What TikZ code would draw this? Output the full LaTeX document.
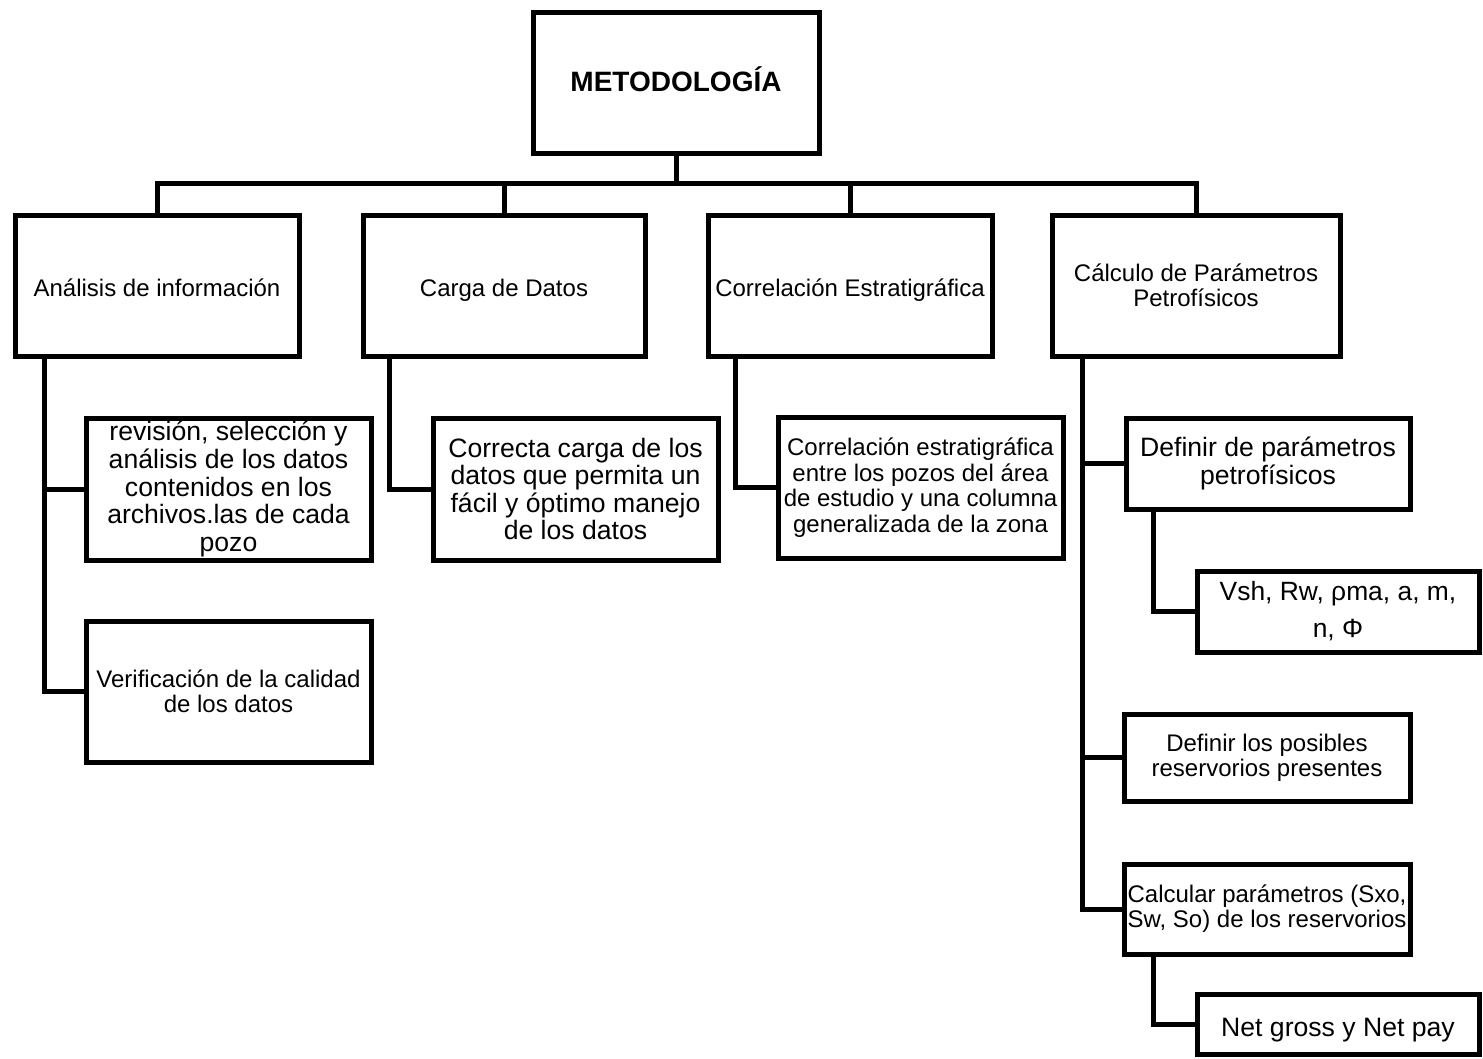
\documentclass[tikz,border=0pt]{standalone}
\usepackage{fontspec}
\setmainfont{Liberation Sans}
\begin{document}
\begin{tikzpicture}[x=1pt,y=-1pt,
  bx/.style={draw=black, line width=5pt, rectangle, align=center, inner sep=0pt, fill=white},
  ln/.style={draw=black, line width=5pt, line cap=rect},
  one/.style={text height=22pt, text depth=0pt},
  fA/.style={font=\fontsize{24}{25}\selectfont},
  fB/.style={font=\fontsize{26.6}{27.6}\selectfont},
  fC/.style={font=\fontsize{24}{25.7}\selectfont}]
\useasboundingbox (0,0) rectangle (1483,1058);
% top
\node[bx, text height=18pt, text depth=0pt, minimum width=286pt, minimum height=141pt, font=\bfseries\fontsize{28}{30}\selectfont] (top) at (676,82.5) {METODOLOGÍA};
% level 1
\node[bx, fA, one, minimum width=284pt, minimum height=141pt] (a1) at (157,285.5) {Análisis de información};
\node[bx, fA, one, minimum width=282pt, minimum height=141pt] (a2) at (504,285.5) {Carga de Datos};
\node[bx, fA, one, minimum width=284pt, minimum height=141pt] (a3) at (850,285.5) {Correlación Estratigráfica};
\node[bx, fA, minimum width=288pt, minimum height=141pt] (a4) at (1196,285.5) {Cálculo de Parámetros\\Petrofísicos};
% level 2
\node[bx, fB, minimum width=285pt, minimum height=142pt] (b1) at (228.5,489) {revisión, selección y\\análisis de los datos\\contenidos en los\\archivos.las de cada\\pozo};
\node[bx, fA, minimum width=285pt, minimum height=141pt] (b2) at (228.5,691.5) {Verificación de la calidad\\de los datos};
\node[bx, fB, minimum width=285pt, minimum height=142pt] (c1) at (575.5,489) {Correcta carga de los\\datos que permita un\\fácil y óptimo manejo\\de los datos};
\node[bx, fC, minimum width=285pt, minimum height=141pt] (d1) at (920.5,487.5) {Correlación estratigráfica\\entre los pozos del área\\de estudio y una columna\\generalizada de la zona};
\node[bx, fB, minimum width=284pt, minimum height=91pt] (e1) at (1268,463.5) {Definir de parámetros\\petrofísicos};
\node[bx, font=\fontsize{26.4}{37}\selectfont, minimum width=282pt, minimum height=81pt] (e1a) at (1338,611.5) {Vsh, Rw, ρma, a, m,\\n, Φ};
\node[bx, fA, minimum width=286pt, minimum height=87pt] (e2) at (1267,757.5) {Definir los posibles\\reservorios presentes};
\node[bx, fA, minimum width=286pt, minimum height=90pt] (e3) at (1267,909) {Calcular parámetros (Sxo,\\Sw, So) de los reservorios};
\node[bx, fB, text height=24pt, text depth=0pt, minimum width=282pt, minimum height=60pt] (e3a) at (1338,1024) {Net gross y Net pay};
% trunk coordinates
\coordinate (bus) at (0,183);
\coordinate (t1) at (44,0);
\coordinate (t2) at (389,0);
\coordinate (t3) at (735,0);
\coordinate (t4) at (1082,0);
\coordinate (t5) at (1153,0);
% connectors
\draw[ln] (top.south) -- (top.south |- bus);
\draw[ln] (a1.north) -- (a1.north |- bus) -- (a4.north |- bus) -- (a4.north);
\draw[ln] (a2.north |- bus) -- (a2.north);
\draw[ln] (a3.north |- bus) -- (a3.north);
\draw[ln] (t1 |- a1.south) |- (b1.west);
\draw[ln] (t1 |- a1.south) |- (b2.west);
\draw[ln] (t2 |- a2.south) |- (c1.west);
\draw[ln] (t3 |- a3.south) |- (d1.west);
\draw[ln] (t4 |- a4.south) |- (e1.west);
\draw[ln] (t4 |- a4.south) |- (e2.west);
\draw[ln] (t4 |- a4.south) |- (e3.west);
\draw[ln] (t5 |- e1.south) |- (e1a.west);
\draw[ln] (t5 |- e3.south) |- (e3a.west);
\end{tikzpicture}
\end{document}
